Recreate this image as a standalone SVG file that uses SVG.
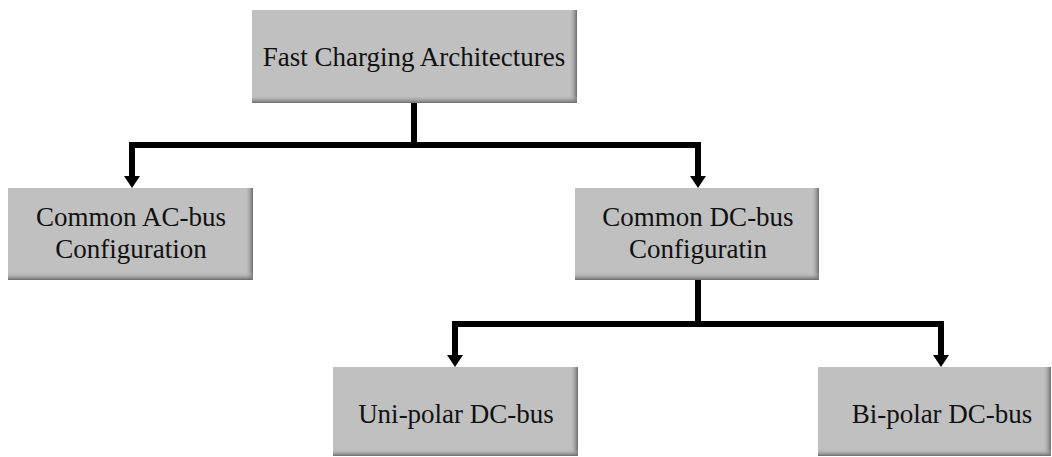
<svg xmlns="http://www.w3.org/2000/svg" width="1052" height="457" viewBox="0 0 1052 457">
<style>
.box{fill:#c0c0c0}
.t{font-family:'Liberation Serif','Times New Roman',serif;font-size:27px;fill:#111;text-anchor:middle}
.c{fill:none;stroke:#000;stroke-width:6;stroke-linejoin:miter}
</style>
<defs>
<linearGradient id="gr" x1="0" y1="0" x2="1" y2="0">
<stop offset="0" stop-color="#c0c0c0" stop-opacity="0"/>
<stop offset="1" stop-color="#6a6a6a"/>
</linearGradient>
<linearGradient id="gb" x1="0" y1="0" x2="0" y2="1">
<stop offset="0" stop-color="#c0c0c0" stop-opacity="0"/>
<stop offset="1" stop-color="#6a6a6a"/>
</linearGradient>
</defs>
<g id="connectors">
<path class="c" d="M414,103 V145"/>
<path class="c" d="M132,145 H698"/>
<path class="c" d="M132,142 V176"/>
<path class="c" d="M698,142 V176"/>
<path d="M124,176 H140 L132,188 Z"/>
<path d="M690,176 H706 L698,188 Z"/>
<path class="c" d="M698,280 V324"/>
<path class="c" d="M455,324 H941"/>
<path class="c" d="M455,321 V355"/>
<path class="c" d="M941,321 V355"/>
<path d="M447,355 H463 L455,367 Z"/>
<path d="M933,355 H949 L941,367 Z"/>
</g>
<g id="root">
<rect class="box" x="252" y="10" width="325" height="93"/>
<rect x="569" y="10" width="8" height="93" fill="url(#gr)"/>
<rect x="252" y="95" width="325" height="8" fill="url(#gb)"/>
<text class="t" x="414" y="66">Fast Charging Architectures</text>
</g>
<g id="ac">
<rect class="box" x="8" y="188" width="245" height="92"/>
<rect x="245" y="188" width="8" height="92" fill="url(#gr)"/>
<rect x="8" y="272" width="245" height="8" fill="url(#gb)"/>
<text class="t" x="131" y="226">Common AC-bus</text>
<text class="t" x="131" y="258">Configuration</text>
</g>
<g id="dc">
<rect class="box" x="575" y="188" width="244" height="92"/>
<rect x="811" y="188" width="8" height="92" fill="url(#gr)"/>
<rect x="575" y="272" width="244" height="8" fill="url(#gb)"/>
<text class="t" x="698" y="226">Common DC-bus</text>
<text class="t" x="698" y="258">Configuratin</text>
</g>
<g id="uni">
<rect class="box" x="333" y="367" width="245" height="89"/>
<rect x="570" y="367" width="8" height="89" fill="url(#gr)"/>
<rect x="333" y="449" width="245" height="7" fill="url(#gb)"/>
<text class="t" x="456" y="423">Uni-polar DC-bus</text>
</g>
<g id="bi">
<rect class="box" x="818" y="367" width="233" height="89"/>
<rect x="1043" y="367" width="8" height="89" fill="url(#gr)"/>
<rect x="818" y="449" width="233" height="7" fill="url(#gb)"/>
<text class="t" x="942" y="423">Bi-polar DC-bus</text>
</g>
</svg>
